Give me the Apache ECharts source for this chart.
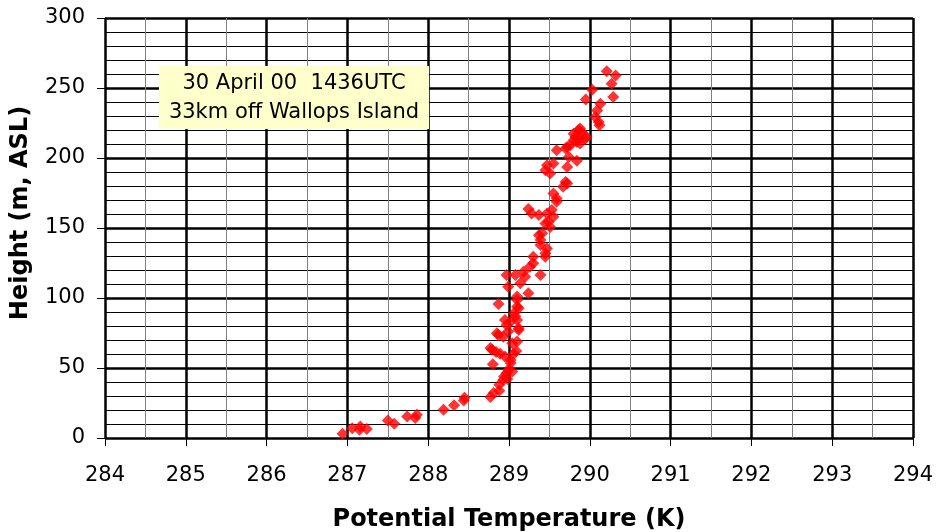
<!DOCTYPE html>
<html>
<head>
<meta charset="utf-8">
<script src="https://cdn.jsdelivr.net/npm/echarts@6/dist/echarts.min.js"></script>
<style>html,body{margin:0;padding:0;background:#fff;}#c{width:937px;height:532px;}</style>
</head>
<body>
<div id="c"></div>
<script>
var xTicks = [284, 285, 286, 287, 288, 289, 290, 291, 292, 293, 294];
var yTicks = [0, 50, 100, 150, 200, 250, 300];
var theta = [
286.94,287.06,287.16,287.15,287.24,287.50,287.58,287.74,287.86,287.84,
288.19,288.32,288.44,288.45,288.77,288.81,288.88,288.88,288.93,288.94,
288.98,288.97,288.99,289.04,288.80,289.02,289.02,288.79,288.84,288.89,
288.95,289.06,289.09,288.77,289.04,289.10,288.87,288.93,288.99,289.12,
288.85,289.12,288.97,289.02,288.95,289.10,289.08,289.06,289.12,289.10,
288.87,289.10,289.10,289.24,288.99,289.14,288.97,289.08,289.20,289.18,
289.39,289.26,289.30,289.30,289.45,289.45,289.47,289.39,289.39,289.37,
289.41,289.51,289.45,289.49,289.55,289.37,289.47,289.28,289.24,289.53,
289.59,289.59,289.55,289.67,289.72,289.70,289.51,289.45,289.47,289.55,
289.72,289.84,289.74,289.59,289.70,289.72,289.76,289.84,289.88,289.80,
289.96,289.82,289.92,289.80,289.86,289.88,290.12,290.11,290.07,290.09,
290.13,289.95,290.29,290.03,290.27,290.21,290.32,289.90,289.94,289.85
];
var height = [
3,7,8.3,5.9,6.4,12.5,10.2,15.4,16.6,14.3,
20.2,23.4,26.8,28.7,29.2,32.1,33.7,38,41.6,43.9,
42.1,46.3,48.7,47.5,52.6,55.8,53.5,63,61.5,60.1,
58.2,60.1,62.2,64.2,67.7,68.9,73.6,72.4,76,77.2,
74.9,78.4,80.8,83.1,84.3,84.3,86.7,89.1,92.7,93.8,
95.7,98.6,101,103.4,108.1,110.5,116.4,116.4,115.2,118.8,
116.4,122.3,124.8,129.5,129.5,131.9,135.4,137.8,141.4,144.9,
146.2,150.8,153.3,154.4,158,159.2,160.4,160.4,163.5,162.8,
168.7,171.1,174.7,179.4,181.8,182.9,188.9,191.3,194.8,196,
193.6,198,200.8,205.5,206.7,207.9,209.1,211.5,210.3,212.7,
215,215,216.2,217.4,219.8,221,223.4,225.7,229.3,234,
238.8,241.7,243.5,248.8,253.1,261.9,259,218.5,213.5,214
];
var points = theta.map(function (t, i) { return [t, height[i]]; });

var font = '"DejaVu Sans", "Liberation Sans", Arial, sans-serif';
var chart = echarts.init(document.getElementById('c'), null, {renderer: 'canvas'});
chart.setOption({
  animation: false,
  backgroundColor: '#ffffff',
  grid: {left: 105, top: 18, right: 24, bottom: 94, containLabel: false, outerBoundsMode: 'none'},
  xAxis: {
    type: 'value', min: 284, max: 294, interval: 1,
    name: 'Potential Temperature (K)', nameLocation: 'middle', nameGap: 70,
    nameTextStyle: {fontFamily: font, fontWeight: 'bold', fontSize: 24, color: '#000'},
    axisLine: {onZero: false, lineStyle: {color: '#000', width: 1}},
    axisTick: {show: true, length: 8, lineStyle: {color: '#000'}},
    axisLabel: {fontFamily: font, fontSize: 21, color: '#000', margin: 27},
    splitLine: {show: true, lineStyle: {color: '#000', width: 2.5}},
    minorTick: {show: false, splitNumber: 2},
    minorSplitLine: {show: true, lineStyle: {color: '#808080', width: 1}}
  },
  yAxis: {
    type: 'value', min: 0, max: 300, interval: 50,
    name: 'Height (m, ASL)', nameLocation: 'middle', nameGap: 72, nameRotate: 90,
    nameTextStyle: {fontFamily: font, fontWeight: 'bold', fontSize: 24, color: '#000', padding: [0, 0, 0, 30]},
    axisLine: {show: true, lineStyle: {color: '#000', width: 1}},
    axisTick: {show: true, length: 8, lineStyle: {color: '#000'}},
    axisLabel: {fontFamily: font, fontSize: 21, color: '#000', margin: 20},
    splitLine: {show: true, lineStyle: {color: '#000', width: 2.5}},
    minorTick: {show: false, splitNumber: 5},
    minorSplitLine: {show: true, lineStyle: {color: '#000', width: 1}}
  },
  graphic: [{
    type: 'group', left: 159, top: 66, z: 100,
    children: [
      {type: 'rect', z: 100, shape: {x: 0, y: 0, width: 270, height: 63}, style: {fill: '#ffffcc'}},
      {type: 'text', z: 101, x: 135, y: 32, style: {
        text: '30 April 00  1436UTC\n33km off Wallops Island',
        font: '21px ' + font, fill: '#000', align: 'center', verticalAlign: 'middle', lineHeight: 29
      }}
    ]
  }],
  series: [{
    type: 'scatter', data: points, symbol: 'diamond', symbolSize: 12,
    itemStyle: {color: '#ff0000'}
  }]
});
</script>
</body>
</html>
